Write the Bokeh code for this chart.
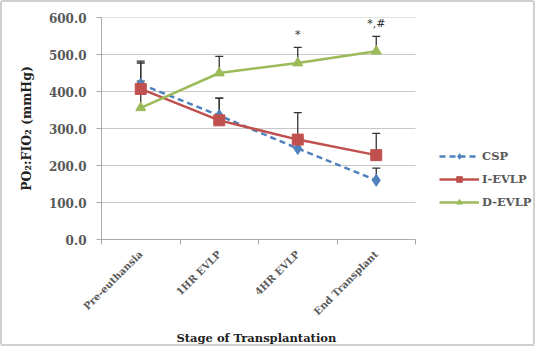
from math import pi
from bokeh.plotting import figure
from bokeh.models import (ColumnDataSource, Whisker, TeeHead, Legend, LegendItem,
                          FixedTicker, Range1d, Title)
from bokeh.core.properties import value
from bokeh.embed import file_html
from bokeh.resources import INLINE

stages = ["Pre-euthansia", "1HR EVLP", "4HR EVLP", "End Transplant"]
csp = [420, 335, 246, 160]
csp_err = [62, 47, 30, 33]
ievlp = [407, 322, 270, 228]
ievlp_err = [70, 60, 73, 59]
devlp = [356, 450, 477, 509]
devlp_err = [72, 45, 42, 40]
y_ticks = [0, 100, 200, 300, 400, 500, 600]
sig_marks = ["", "", "*", "*,#"]

n = len(stages)
xs = [i + 0.5 for i in range(n)]

SERIF = "DejaVu Serif"
GRAY_TXT = "#595959"

# frame spans the plot area plus the legend zone on the right
p = figure(width=535, height=346, output_backend="svg", toolbar_location=None,
           x_range=Range1d(0, n * 434 / 314), y_range=Range1d(0, 600),
           min_border_left=99, min_border_right=2, min_border_top=15,
           min_border_bottom=10)
p.outline_line_color = None
p.background_fill_color = "white"
p.border_fill_color = "white"
p.styles = {"border": "2px solid #cfcfcf", "border-radius": "3px", "box-sizing": "border-box"}

# gridlines only across the plot area
p.xgrid.grid_line_color = None
p.ygrid.grid_line_color = None
p.segment(x0=[0] * len(y_ticks), x1=[n] * len(y_ticks), y0=y_ticks, y1=y_ticks,
          line_color="#c8c8c8", line_width=1, level="underlay")

# axes
p.xaxis.bounds = (0, n)
p.xaxis.ticker = FixedTicker(ticks=xs, minor_ticks=list(range(n + 1)))
p.xaxis.major_label_overrides = {x: s for x, s in zip(xs, stages)}
p.xaxis.major_label_orientation = pi / 4
p.xaxis.major_tick_out = 0
p.xaxis.major_tick_in = 0
p.xaxis.minor_tick_out = 5
p.xaxis.minor_tick_in = 0
p.xaxis.minor_tick_line_color = "#aaaaaa"
p.xaxis.axis_line_color = "#aaaaaa"
p.xaxis.major_label_text_font = SERIF
p.xaxis.major_label_text_font_style = "bold"
p.xaxis.major_label_text_font_size = "10px"
p.xaxis.major_label_text_color = GRAY_TXT
p.xaxis.major_label_standoff = 8

xtitle = Title(text="Stage of Transplantation", align="left", offset=75,
               text_font=SERIF, text_font_style="bold", text_font_size="11.5px",
               text_color="#222222", standoff=8)
p.add_layout(xtitle, "below")

p.yaxis.ticker = FixedTicker(ticks=y_ticks)
p.yaxis.major_label_overrides = {t: f"{t:.1f}" for t in y_ticks}
p.yaxis.major_tick_out = 5
p.yaxis.major_tick_in = 0
p.yaxis.minor_tick_line_color = None
p.yaxis.major_tick_line_color = "#aaaaaa"
p.yaxis.axis_line_color = "#aaaaaa"
p.yaxis.major_label_text_font = SERIF
p.yaxis.major_label_text_font_style = "bold"
p.yaxis.major_label_text_font_size = "12px"
p.yaxis.major_label_text_color = GRAY_TXT
p.yaxis.major_label_standoff = 10
p.yaxis.axis_label = "PO\u2082:FIO\u2082 (mmHg)"
p.yaxis.axis_label_text_font = SERIF
p.yaxis.axis_label_text_font_style = "bold"
p.yaxis.axis_label_text_font_size = "12.5px"
p.yaxis.axis_label_text_color = "#222222"
p.yaxis.axis_label_standoff = 12

series = [
    ("CSP", csp, csp_err, "#4F81BD", "diamond", 12, "6 4"),
    ("I-EVLP", ievlp, ievlp_err, "#C0504D", "square", 11, "solid"),
    ("D-EVLP", devlp, devlp_err, "#9BBB59", "triangle", 10, "solid"),
]

items = []
for name, vals, errs, col, mk, sz, dash in series:
    src = ColumnDataSource(dict(x=xs, y=vals, up=[v + e for v, e in zip(vals, errs)]))
    w = Whisker(source=src, base="x", lower="y", upper="up", line_color="#333333",
                line_width=1.3, lower_head=None,
                upper_head=TeeHead(size=8, line_color="#333333", line_width=1.3),
                level="underlay")
    p.add_layout(w)
for name, vals, errs, col, mk, sz, dash in series:
    src = ColumnDataSource(dict(x=xs, y=vals))
    ln = p.line("x", "y", source=src, line_color=col, line_width=2.5, line_dash=dash)
    sc = p.scatter("x", "y", source=src, marker=mk, size=sz, fill_color=col,
                   line_color=col)
    items.append(LegendItem(label=name, renderers=[ln, sc]))

# significance marks above D-EVLP error bars
sig_src = ColumnDataSource(dict(x=xs, y=[v + e for v, e in zip(devlp, devlp_err)], t=sig_marks))
p.text("x", "y", text="t", source=sig_src, text_align="center", text_baseline="bottom",
       y_offset=-6, text_font=value(SERIF), text_font_size="11px", text_color="#333333")

legend = Legend(items=items, location=(338, 30), orientation="vertical",
                background_fill_alpha=0, border_line_color=None,
                label_text_font=SERIF, label_text_font_style="bold",
                label_text_font_size="11.5px", label_text_color=GRAY_TXT,
                glyph_width=40, glyph_height=14, spacing=9, padding=0,
                label_standoff=3, margin=0)
p.add_layout(legend)

open("out.html", "w").write(file_html(p, INLINE))
